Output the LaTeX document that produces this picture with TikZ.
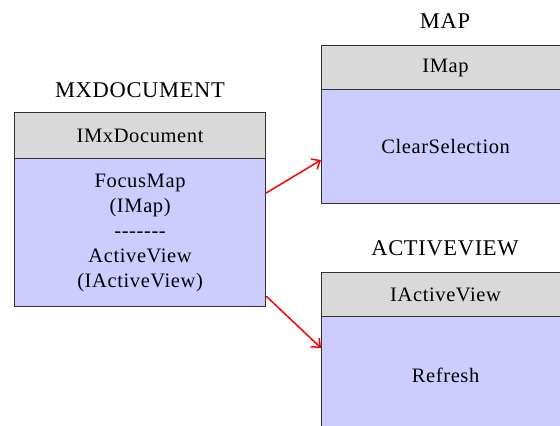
\documentclass[tikz,border=0pt]{standalone}
\usepackage{fontspec}
\setmainfont{Liberation Serif}[LetterSpace=3]
\usetikzlibrary{arrows.meta}
\definecolor{hdrgray}{HTML}{D9D9D9}
\definecolor{bodyblue}{HTML}{CCCCFF}
\definecolor{edge}{HTML}{333333}
\tikzset{
  hdr/.style={draw=edge, line width=1.2pt, fill=hdrgray, anchor=north west, inner sep=0pt, font=\fontsize{20.5}{25}\selectfont},
  bodybox/.style={draw=edge, line width=1.2pt, fill=bodyblue, anchor=north west, inner sep=0pt, align=center, font=\fontsize{20.5}{25}\selectfont},
  title/.style={font=\fontsize{22.5}{25}\selectfont, inner sep=0pt},
  link/.style={draw=red, line width=1.5pt, -{Straight Barb[length=7pt,width=12pt,line width=1.5pt]}}
}
\begin{document}
\begin{tikzpicture}[x=1pt,y=-1pt]
\useasboundingbox (0,0) rectangle (560,426);
\clip (0,0) rectangle (560,426);
\fill[white] (0,0) rectangle (560,426);
% titles
\node[title] (t1) at (140,90) {MXDOCUMENT};
\node[title] (t2) at (445,21) {MAP};
\node[title] (t3) at (445,248) {ACTIVEVIEW};
% left box
\node[hdr, minimum width=251pt, minimum height=46pt] (mxh) at (14,112) {IMxDocument};
\node[bodybox, minimum width=251pt, minimum height=148pt] (mxb) at (14,158) {FocusMap\\(IMap)\\{-}{-}{-}{-}{-}{-}{-}\\ActiveView\\(IActiveView)};
% map box
\node[hdr, minimum width=248pt, minimum height=44pt] (maph) at (321,45) {IMap};
\node[bodybox, minimum width=248pt, minimum height=114pt] (mapb) at (321,89) {ClearSelection};
% activeview box
\node[hdr, minimum width=248pt, minimum height=44pt] (avh) at (321,272) {IActiveView};
\node[bodybox, minimum width=248pt, minimum height=118pt] (avb) at (321,316) {Refresh};
% arrows
\draw[link] ([yshift=-35pt]mxb.north east) -- ([yshift=-71pt]mapb.north west);
\draw[link] ([yshift=11pt]mxb.south east) -- ([yshift=-32pt]avb.north west);
\end{tikzpicture}
\end{document}
